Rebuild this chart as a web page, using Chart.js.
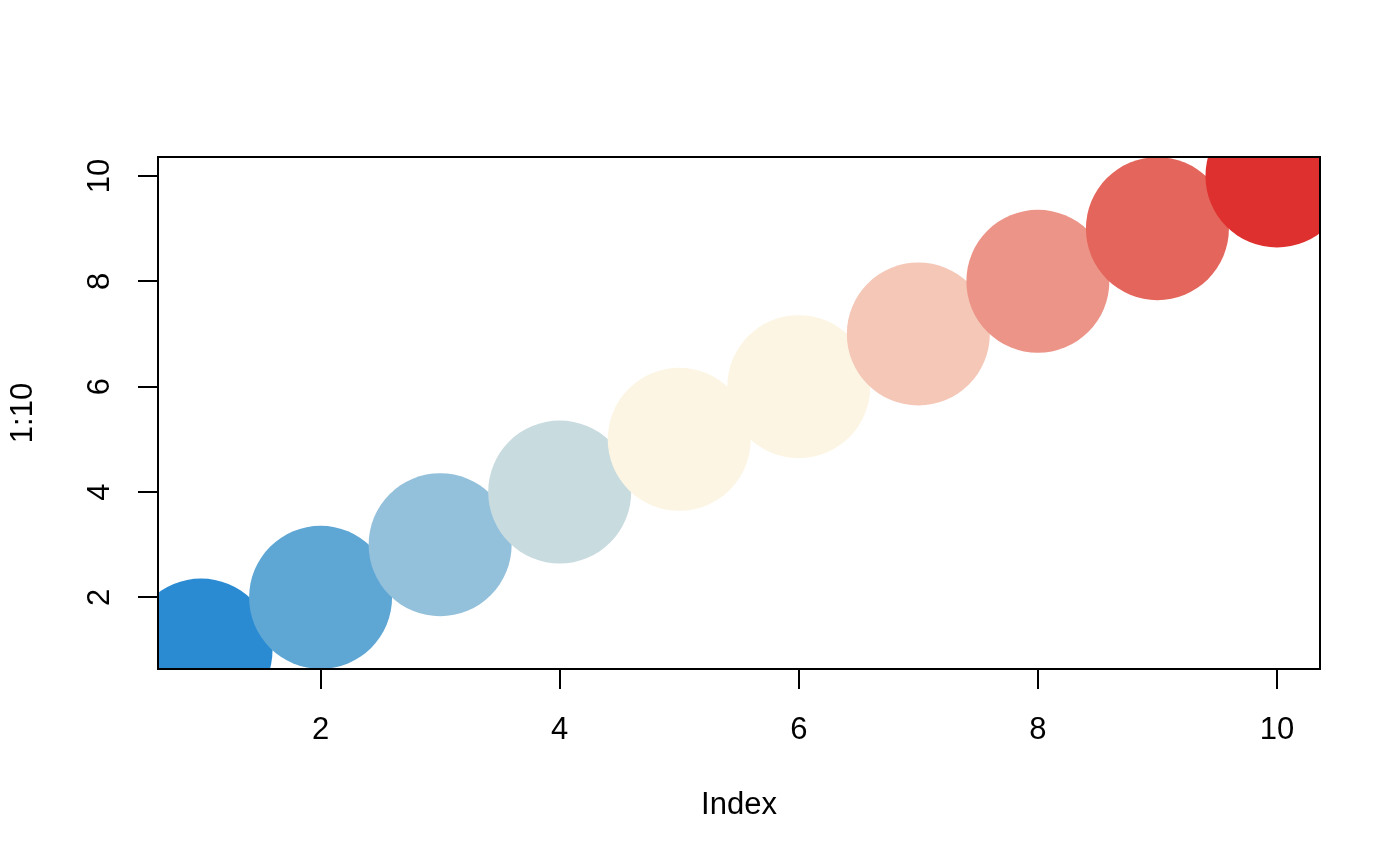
<!DOCTYPE html>
<html>
<head>
<meta charset="utf-8">
<script src="https://cdn.jsdelivr.net/npm/chart.js@4/dist/chart.umd.min.js"></script>
<style>
  html, body { margin: 0; padding: 0; background: #fff; }
  canvas { display: block; }
</style>
</head>
<body>
<canvas id="chart" width="1400" height="866"></canvas>
<script>
const index = [1, 2, 3, 4, 5, 6, 7, 8, 9, 10]
const values = [1, 2, 3, 4, 5, 6, 7, 8, 9, 10]
const colors = ["#2A8BD3", "#5EA7D5", "#93C0DB", "#C8DBDF", "#FCF5E3", "#FCF5E3", "#F4C7B7", "#EC9487", "#E4655C", "#DE302E"]
const xTicks = [2, 4, 6, 8, 10]
const yTicks = [2, 4, 6, 8, 10]
const xRange = [0.64, 10.36]
const yRange = [0.64, 10.36]

const FONT = "'Liberation Sans', Arial, Helvetica, sans-serif"

// R-style box around the plot region
const boxPlugin = {
  id: "box",
  afterDatasetsDraw(chart) {
    const { ctx, chartArea: a } = chart
    ctx.save()
    ctx.strokeStyle = "#000"
    ctx.lineWidth = 2
    ctx.strokeRect(a.left, a.top, a.right - a.left, a.bottom - a.top)
    ctx.restore()
  }
}

new Chart(document.getElementById("chart"), {
  type: "scatter",
  data: {
    datasets: [{
      data: index.map((x, i) => ({ x: x, y: values[i] })),
      pointRadius: 71.5,
      pointBackgroundColor: colors,
      pointBorderWidth: 0,
      borderWidth: 0,
      clip: 0
    }]
  },
  options: {
    responsive: false,
    devicePixelRatio: 1,
    animation: false,
    events: [],
    layout: { padding: { left: 0, top: 157, right: 80, bottom: 0 } },
    plugins: { legend: { display: false }, tooltip: { enabled: false } },
    scales: {
      x: {
        type: "linear",
        min: xRange[0],
        max: xRange[1],
        afterBuildTicks: s => { s.ticks = xTicks.map(v => ({ value: v })) },
        afterFit: s => { s.height = 197 },
        border: { display: false },
        grid: { drawOnChartArea: false, tickLength: 20, color: "#000", lineWidth: 2 },
        ticks: { autoSkip: false, maxRotation: 0, padding: 23, color: "#000", font: { family: FONT, size: 31 } },
        title: { display: true, text: "Index", color: "#000", font: { family: FONT, size: 31 }, padding: { top: 0, bottom: 42 } }
      },
      y: {
        type: "linear",
        min: yRange[0],
        max: yRange[1],
        afterBuildTicks: s => { s.ticks = yTicks.map(v => ({ value: v })) },
        afterFit: s => { s.width = 158 },
        border: { display: false },
        grid: { drawOnChartArea: false, tickLength: 20, color: "#000", lineWidth: 2 },
        ticks: { autoSkip: false, minRotation: 90, maxRotation: 90, crossAlign: "center", padding: 20, color: "#000", font: { family: FONT, size: 31 } },
        title: { display: true, text: "1:10", color: "#000", font: { family: FONT, size: 31 }, padding: { top: 5, bottom: 0 } }
      }
    }
  },
  plugins: [boxPlugin]
})
</script>
</body>
</html>
